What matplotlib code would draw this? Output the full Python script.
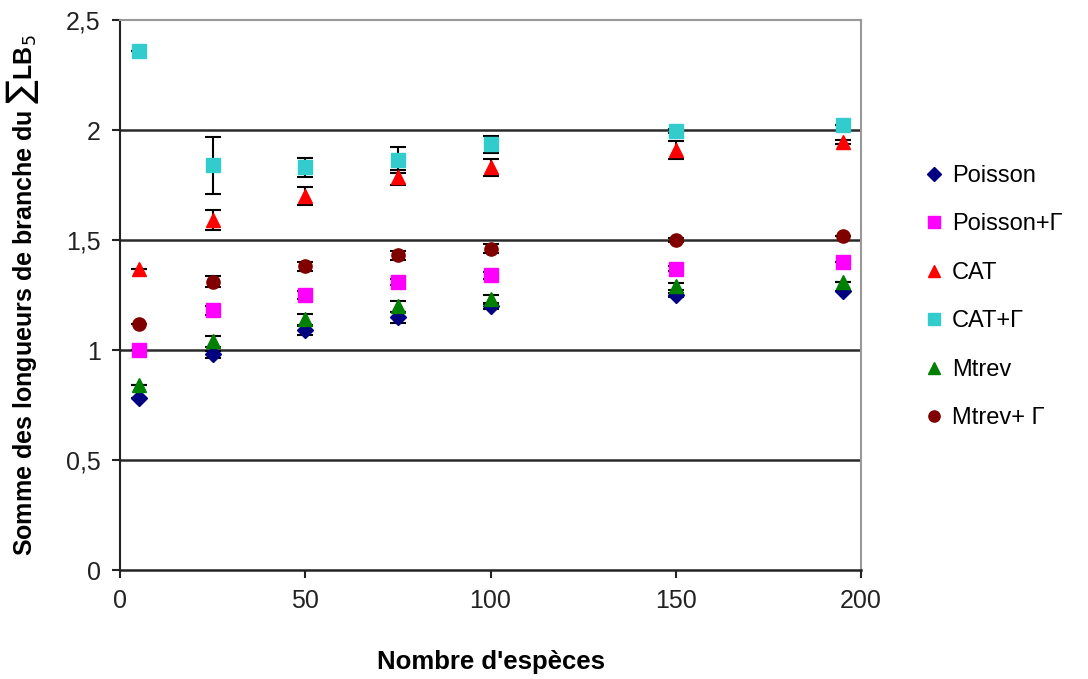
"""
Somme des longueurs de branche (sum LB5) vs nombre d'especes
Output: out.png
"""
import matplotlib
matplotlib.use("Agg")
import matplotlib.pyplot as plt
from matplotlib.lines import Line2D
from matplotlib.ticker import FuncFormatter

plt.rcParams["font.family"] = ["Liberation Sans", "DejaVu Sans"]

# Data
especes = [5, 25, 50, 75, 100, 150, 195]

poisson = [0.78, 0.98, 1.09, 1.15, 1.20, 1.25, 1.27]
poisson_err = [0, 0.015, 0.02, 0.025, 0.015, 0.01, 0]

poisson_g = [1.00, 1.18, 1.25, 1.31, 1.34, 1.37, 1.40]
poisson_g_err = [0, 0.02, 0.02, 0.015, 0.015, 0.012, 0]

cat = [1.37, 1.59, 1.70, 1.785, 1.83, 1.91, 1.945]
cat_err = [0, 0.045, 0.04, 0.035, 0.04, 0.04, 0.01]

cat_g = [2.36, 1.84, 1.83, 1.865, 1.935, 1.995, 2.025]
cat_g_err = [0, 0.13, 0.045, 0.06, 0.04, 0.01, 0]

mtrev = [0.84, 1.04, 1.14, 1.20, 1.23, 1.29, 1.31]
mtrev_err = [0, 0.025, 0.025, 0.025, 0.02, 0.015, 0]

mtrev_g = [1.12, 1.31, 1.38, 1.43, 1.46, 1.50, 1.52]
mtrev_g_err = [0, 0.025, 0.02, 0.022, 0.02, 0.01, 0]

series = [
    ("Poisson", poisson, poisson_err, "D", "#000080", 8.5),
    ("Poisson+Γ", poisson_g, poisson_g_err, "s", "#FF00FF", 9.5),
    ("CAT", cat, cat_err, "^", "#FF0000", 10.5),
    ("CAT+Γ", cat_g, cat_g_err, "s", "#33CCCC", 10.5),
    ("Mtrev", mtrev, mtrev_err, "^", "#008000", 10.5),
    ("Mtrev+ Γ", mtrev_g, mtrev_g_err, "o", "#800000", 9.5),
]

fig = plt.figure(figsize=(10.88, 6.79), dpi=100)
ax = fig.add_axes([0.1103, 0.1605, 0.6811, 0.81])

handles = []
for name, vals, err, mk, col, ms in series:
    ax.errorbar(especes, vals, yerr=err, fmt=mk, color=col, ms=ms,
                ecolor="black", elinewidth=1.5, capsize=6, capthick=1.5)
    handles.append(Line2D([], [], ls="none", marker=mk, color=col,
                          ms=ms * 0.85, label=name))

# Axes setup
ax.set_xlim(0, 200)
ax.set_ylim(0, 2.5)
ax.set_xticks([0, 50, 100, 150, 200])
ax.set_yticks([0, 0.5, 1, 1.5, 2, 2.5])
ax.yaxis.set_major_formatter(FuncFormatter(lambda v, p: f"{v:g}".replace(".", ",")))
ax.tick_params(direction="out", length=6, width=1.5, color="#222222",
               labelsize=18, labelcolor="#222222", pad=8)

for y in [0.5, 1, 1.5, 2]:
    ax.axhline(y, color="#2a2a2a", lw=1.8, zorder=0)

ax.spines["left"].set_color("#222222")
ax.spines["bottom"].set_color("#222222")
ax.spines["left"].set_linewidth(1.5)
ax.spines["bottom"].set_linewidth(1.8)
ax.spines["top"].set_color("#999999")
ax.spines["right"].set_color("#999999")
ax.spines["top"].set_linewidth(1.5)
ax.spines["right"].set_linewidth(1.5)

ax.set_xlabel("Nombre d'espèces", fontsize=18.5, fontweight="bold", labelpad=26)
ax.set_ylabel("Somme des longueurs de branche du ∑LB$_5$", fontsize=18,
              fontweight="bold", labelpad=18)

fig.legend(handles=handles, loc="upper left", bbox_to_anchor=(0.848, 0.757),
           frameon=False, fontsize=17, handlelength=1.0, handletextpad=0.25,
           labelspacing=1.12, borderpad=0, borderaxespad=0)

plt.savefig("out.png", dpi=100)
